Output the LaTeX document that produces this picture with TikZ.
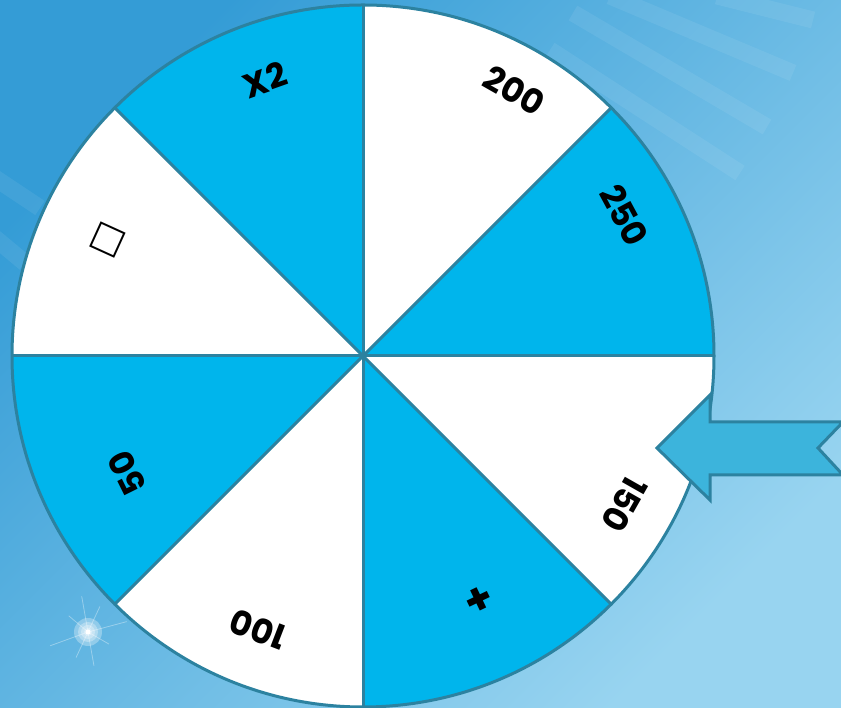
\documentclass[tikz,border=0pt]{standalone}
\usepackage{fontspec}
\usetikzlibrary{calc}
\setmainfont{Poppins}
\newfontfamily\symfont{DejaVu Sans}
\definecolor{bgdark}{RGB}{52,156,214}
\definecolor{bglight}{RGB}{152,212,240}
\definecolor{wheelblue}{RGB}{0,181,236}
\definecolor{rimteal}{RGB}{44,130,160}
\definecolor{arrowfill}{RGB}{60,180,220}
\begin{document}
\begin{tikzpicture}[x=1pt,y=1pt,
  prize/.style={font=\fontsize{34}{34}\selectfont\bfseries, text=black, inner sep=0pt},
  rim/.style={draw=rimteal, line width=3pt},
  stripe/.style={white, opacity=0.07, line width=17pt}]
  \useasboundingbox (0,0) rectangle (841,708);
  % backdrop
  \shade[top color=bgdark, bottom color=bglight, shading angle=45] (0,0) rectangle (841,708);
  \draw[stripe] (573,695) -- (767,581);
  \draw[stripe] (550,658) -- (740,535);
  \draw[stripe] (610,712) -- (793,635);
  \draw[stripe] (717,712) -- (813,688);
  \draw[stripe] (-5,530) -- (40,500);
  \draw[stripe] (-5,470) -- (25,445);
  % sparkle
  \foreach \a/\l in {15/40,65/28,100/36,140/25,200/40,245/28,280/34,330/24}
    \draw[white, opacity=0.35, line width=0.8pt, line cap=round] (88,76) -- +(\a:\l);
  \foreach \s in {14,10,7,4}
    \fill[white, opacity=0.3] (88,76) circle (\s);
  \fill[white] (88,76) circle (2.5);
  % wheel
  \coordinate (hub) at (363,352);
  \foreach \i in {0,...,7} {
    \pgfmathsetmacro{\a}{\i*45}
    \pgfmathtruncatemacro{\odd}{mod(\i,2)}
    \ifnum\odd=0 \def\seg{wheelblue}\else\def\seg{white}\fi
    \fill[\seg] (hub) -- ++(\a:351) arc[start angle=\a, delta angle=45, radius=351] -- cycle;
  }
  \foreach \a in {0,45,...,315}
    \draw[rim] (hub) -- ++(\a:351) coordinate (spoke\a);
  \draw[rim] (hub) circle (351);
  % prizes: angle/radius/text
  \foreach \a/\r/\t [count=\k] in {109.5/293/X2, 60.3/306/200, 28.3/297/250, -29.6/301/150,
      -111/293/100, -153.6/263/50}
    \node[prize, rotate=\a-90] (prize\k) at ($(hub)+(\a:\r)$) {\t};
  \node[prize, font=\fontsize{44}{44}\selectfont\bfseries, rotate=-154.5] (plus) at ($(hub)+(-64.5:267)$) {+};
  \node[font=\symfont\fontsize{36}{36}\selectfont, inner sep=0pt, rotate=-24.5] (blank) at ($(hub)+(155.5:280)$) {□};
  % pointer
  \draw[fill=arrowfill, draw=rimteal, line width=3pt, line join=miter]
    (657,260) -- (710,313) -- (710,286) -- (843,286) -- (818,260)
    -- (843,233) -- (710,233) -- (710,208) -- cycle;
\end{tikzpicture}
\end{document}
